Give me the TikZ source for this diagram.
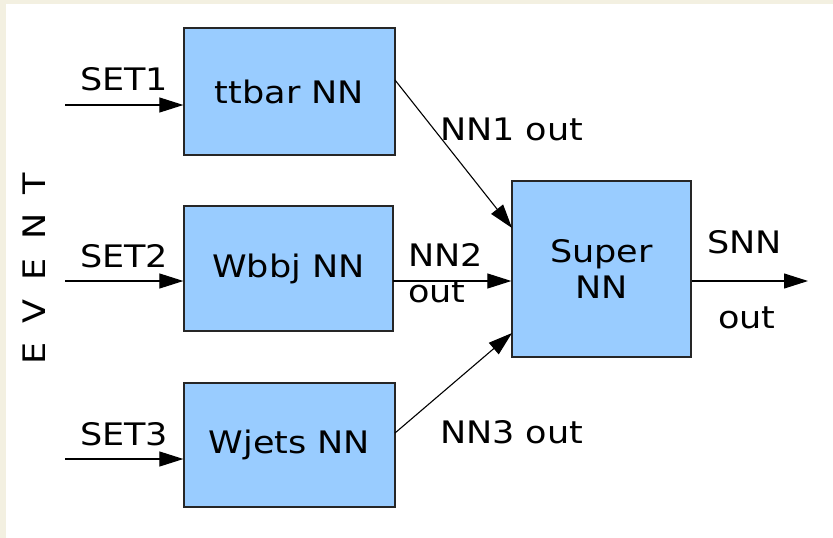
\documentclass[tikz,border=0pt]{standalone}
\usepackage{fontspec}
\setmainfont{DejaVu Sans}[FakeStretch=1.13]
\usetikzlibrary{arrows.meta}
\definecolor{cream}{RGB}{243,240,225}
\definecolor{boxblue}{RGB}{153,204,255}
\tikzset{
  nnbox/.style={draw=black!85, line width=1.3pt, fill=boxblue, inner sep=0pt,
    font=\fontsize{31}{38}\selectfont, align=center},
  lbl/.style={anchor=base west, inner sep=0pt, font=\fontsize{31}{38}\selectfont},
  flow/.style={line width=1.1pt, -{Triangle[length=24pt,width=15pt]}},
}
\begin{document}
\begin{tikzpicture}[x=1pt,y=-1pt]
  \useasboundingbox (0,0) rectangle (833,538);
  \fill[cream] (0,0) rectangle (833,538);
  \fill[white] (6,4) rectangle (833,538);

  % network blocks
  \node[nnbox, minimum width=211pt, minimum height=127pt] (ttbar) at (289.5,91.5) {ttbar NN};
  \node[nnbox, minimum width=209pt, minimum height=125pt] (wbbj) at (288.5,268.5) {Wbbj NN};
  \node[nnbox, minimum width=211pt, minimum height=124pt] (wjets) at (289.5,445) {Wjets NN};
  \node[nnbox, minimum width=179pt, minimum height=176pt] (super) at (601.5,269) {Super\\[-2pt]NN};

  % inputs
  \coordinate (in1) at (65,105);
  \coordinate (in2) at (65,281);
  \coordinate (in3) at (65,459);
  \draw[flow] (in1) -- (in1 -| ttbar.west);
  \draw[flow] (in2) -- (in2 -| wbbj.west);
  \draw[flow] (in3) -- (in3 -| wjets.west);
  \node[lbl] (set1) at (80,90) {SET1};
  \node[lbl] (set2) at (80,267) {SET2};
  \node[lbl] (set3) at (80,445) {SET3};

  % vertical event label
  \node[rotate=90, inner sep=0pt, font=\fontsize{31}{38}\selectfont] (event) at (34,269)
    {{\spaceskip=19pt E V E N T}};

  % outputs of the three networks into the super network
  \coordinate (o1) at (395,80);
  \coordinate (i1) at (512,228);
  \coordinate (o3) at (395,433);
  \coordinate (i3) at (512,333);
  \coordinate (o2) at (393,281);
  \draw[flow] (o1) -- (i1);
  \draw[flow] (o2) -- (o2 -| super.west);
  \draw[flow] (o3) -- (i3);
  \node[lbl] (nn1) at (440,140) {NN1 out};
  \node[lbl] (nn2) at (408,266) {NN2};
  \node[lbl] (nn2b) at (408,302) {out};
  \node[lbl] (nn3) at (440,443) {NN3 out};

  % final output
  \coordinate (snnout) at (808,281);
  \draw[flow] (super.east |- snnout) -- (snnout);
  \node[lbl] (snn) at (707,253) {SNN};
  \node[lbl] (snnb) at (718,328) {out};
\end{tikzpicture}
\end{document}
